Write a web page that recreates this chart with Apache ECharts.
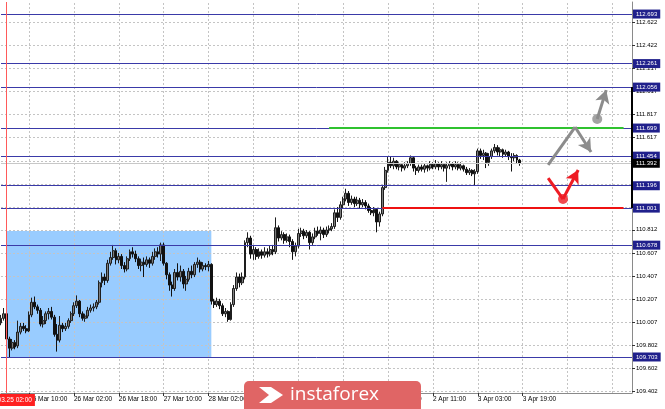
<!DOCTYPE html>
<html><head><meta charset="utf-8">
<script src="https://cdn.jsdelivr.net/npm/echarts@6/dist/echarts.min.js"></script>
<style>html,body{margin:0;padding:0;background:#fff}#c{width:665px;height:409px}</style>
</head><body><div id="c"></div><script>
const opens=[110.00,110.04,110.08,109.86,109.78,109.83,109.80,109.92,109.97,109.95,
109.93,110.07,110.18,110.14,110.11,109.99,110.02,110.08,110.10,110.05,
109.90,109.85,109.98,109.95,109.97,110.02,110.08,110.15,110.19,110.08,
110.04,110.06,110.11,110.13,110.14,110.18,110.35,110.40,110.37,110.52,
110.57,110.63,110.55,110.58,110.50,110.47,110.56,110.62,110.60,110.56,
110.50,110.53,110.51,110.55,110.52,110.58,110.62,110.60,110.68,110.52,
110.42,110.33,110.30,110.44,110.40,110.45,110.34,110.38,110.45,110.42,
110.51,110.53,110.47,110.50,110.49,110.51,110.19,110.16,110.19,110.15,
110.08,110.10,110.03,110.16,110.30,110.40,110.35,110.40,110.70,110.74,
110.60,110.64,110.58,110.62,110.59,110.62,110.60,110.64,110.62,110.83,
110.74,110.77,110.72,110.75,110.71,110.62,110.67,110.78,110.80,110.76,
110.79,110.70,110.75,110.80,110.78,110.81,110.77,110.81,110.82,110.84,
110.96,110.92,111.03,111.08,111.13,111.05,111.08,111.04,111.07,111.03,
111.05,111.02,110.98,110.96,110.99,110.88,110.95,111.18,111.33,111.40,
111.37,111.41,111.36,111.38,111.35,111.37,111.39,111.44,111.35,111.33,
111.36,111.34,111.37,111.35,111.38,111.36,111.39,111.36,111.38,111.35,
111.37,111.39,111.36,111.38,111.35,111.37,111.34,111.31,111.33,111.30,
111.32,111.50,111.46,111.48,111.40,111.45,111.50,111.53,111.49,111.51,
111.47,111.49,111.45,111.44,111.46,111.42];
const closes=[110.04,110.08,109.86,109.78,109.83,109.79,109.92,109.97,109.95,109.93,
110.07,110.18,110.14,110.11,109.99,110.02,110.08,110.10,110.05,109.90,
109.85,109.98,109.95,109.97,110.02,110.08,110.15,110.19,110.08,110.04,
110.06,110.11,110.13,110.14,110.18,110.35,110.40,110.37,110.52,110.57,
110.63,110.55,110.58,110.50,110.47,110.56,110.62,110.60,110.56,110.50,
110.53,110.51,110.55,110.52,110.58,110.62,110.60,110.68,110.52,110.42,
110.33,110.30,110.44,110.40,110.45,110.34,110.38,110.45,110.42,110.51,
110.53,110.47,110.50,110.49,110.51,110.19,110.16,110.19,110.15,110.08,
110.10,110.03,110.16,110.30,110.40,110.35,110.40,110.70,110.74,110.60,
110.64,110.58,110.62,110.59,110.62,110.60,110.64,110.62,110.83,110.74,
110.77,110.72,110.75,110.71,110.62,110.67,110.78,110.80,110.76,110.79,
110.70,110.75,110.80,110.78,110.81,110.77,110.81,110.82,110.84,110.96,
110.92,111.03,111.08,111.13,111.05,111.08,111.04,111.07,111.03,111.05,
111.02,110.98,110.96,110.99,110.88,110.95,111.18,111.33,111.40,111.37,
111.41,111.36,111.38,111.35,111.37,111.39,111.44,111.35,111.33,111.36,
111.34,111.37,111.35,111.38,111.36,111.39,111.36,111.38,111.35,111.37,
111.39,111.36,111.38,111.35,111.37,111.34,111.31,111.33,111.30,111.32,
111.50,111.46,111.48,111.40,111.45,111.50,111.53,111.49,111.51,111.47,
111.49,111.45,111.44,111.46,111.42,111.392];
const highs=[110.07,110.13,110.09,109.88,109.86,109.85,110.02,110.00,110.00,109.98,
110.10,110.22,110.23,110.16,110.13,110.06,110.10,110.13,110.14,110.07,
109.99,110.06,110.00,110.00,110.04,110.10,110.18,110.24,110.20,110.10,
110.08,110.14,110.16,110.17,110.20,110.37,110.44,110.43,110.55,110.62,
110.68,110.65,110.61,110.60,110.53,110.58,110.64,110.66,110.63,110.58,
110.56,110.57,110.58,110.57,110.62,110.65,110.66,110.70,110.70,110.53,
110.44,110.36,110.47,110.52,110.50,110.47,110.41,110.48,110.50,110.53,
110.57,110.55,110.53,110.52,110.54,110.52,110.21,110.22,110.21,110.17,
110.13,110.11,110.18,110.33,110.44,110.43,110.44,110.72,110.79,110.76,
110.67,110.66,110.65,110.64,110.66,110.65,110.67,110.68,110.92,110.85,
110.80,110.79,110.78,110.77,110.73,110.70,110.82,110.83,110.82,110.81,
110.80,110.78,110.83,110.84,110.84,110.83,110.84,110.85,110.87,110.99,
111.01,111.06,111.10,111.17,111.15,111.11,111.10,111.10,111.09,111.08,
111.07,111.04,111.01,111.01,111.00,110.97,111.20,111.36,111.45,111.45,
111.44,111.42,111.40,111.39,111.40,111.41,111.46,111.45,111.37,111.38,
111.38,111.39,111.38,111.41,111.40,111.42,111.40,111.41,111.39,111.40,
111.41,111.40,111.41,111.40,111.40,111.38,111.36,111.35,111.34,111.34,
111.52,111.52,111.51,111.49,111.48,111.52,111.56,111.55,111.53,111.52,
111.51,111.50,111.48,111.48,111.47,111.43];
const lows=[109.98,110.02,109.84,109.70,109.76,109.77,109.78,109.90,109.93,109.91,
109.92,110.05,110.12,110.08,109.97,109.96,109.99,110.03,110.03,109.88,
109.75,109.83,109.92,109.93,109.95,110.00,110.06,110.13,110.05,110.02,
110.01,110.04,110.09,110.10,110.12,110.16,110.31,110.33,110.35,110.50,
110.55,110.51,110.52,110.47,110.44,110.45,110.54,110.57,110.53,110.47,
110.45,110.40,110.49,110.48,110.50,110.55,110.57,110.54,110.50,110.38,
110.28,110.23,110.28,110.37,110.36,110.30,110.28,110.36,110.39,110.40,
110.48,110.44,110.45,110.46,110.45,110.16,110.13,110.14,110.12,110.06,
110.05,110.01,110.02,110.14,110.28,110.31,110.33,110.38,110.66,110.56,
110.55,110.55,110.56,110.56,110.57,110.57,110.58,110.59,110.60,110.71,
110.72,110.69,110.70,110.66,110.55,110.58,110.65,110.75,110.73,110.74,
110.64,110.68,110.73,110.76,110.72,110.74,110.75,110.78,110.80,110.82,
110.88,110.90,111.00,111.06,111.02,111.03,111.01,111.02,111.00,111.01,
110.99,110.96,110.94,110.93,110.79,110.84,110.93,111.16,111.31,111.35,
111.34,111.34,111.33,111.32,111.33,111.35,111.37,111.32,111.29,111.31,
111.32,111.31,111.32,111.33,111.34,111.34,111.33,111.34,111.32,111.23,
111.34,111.33,111.34,111.33,111.33,111.32,111.29,111.29,111.28,111.20,
111.30,111.43,111.42,111.35,111.37,111.43,111.48,111.46,111.45,111.44,
111.45,111.42,111.32,111.41,111.39,111.37];

const tickLabels=["25 Mar 10:00","26 Mar 02:00","26 Mar 18:00","27 Mar 10:00","28 Mar 02:00","28 Mar 18:00","29 Mar 10:00","1 Apr 02:00","1 Apr 18:00","2 Apr 11:00","3 Apr 03:00","3 Apr 19:00"];
const firstTick=10, tickStep=16, totalSlots=226;
const gridValues=[112.622,112.422,112.217,112.017,111.817,111.617,111.412,111.212,111.012,110.812,110.607,110.407,110.207,110.007,109.802,109.602,109.402];
const levelValues=[112.693,112.261,112.056,111.699,111.454,111.196,111.001,110.678,109.703];
const bidValue=111.392;
const greenLevel=111.699, greenFrom=117, greenTo=222;
const redLevel=111.001, redFrom=136, redTo=222;
const boxFrom=[2,109.703], boxTo=[75,110.801];
const separatorIndex=2, separatorLabel="2019.03.25 02:00";
const scaleMarkRange=[111.001,112.056];
const grayUpLeg=[[195.1,111.377],[204.7,111.708]];
const grayDownLeg=[[204.7,111.708],[210.4,111.490]];
const grayJump=[[212.6,111.778],[215.8,112.030]];
const redDownLeg=[[195.1,111.263],[200.4,111.080]];
const redUpLeg=[[200.4,111.080],[205.8,111.333]];
const yMin=109.389, yMax=112.798;

const categories=[];
for(let i=0;i<totalSlots;i++){
  const k=(i-firstTick)/tickStep;
  categories.push(Number.isInteger(k)&&k>=0&&k<tickLabels.length?tickLabels[k]:'');
}
const candleData=opens.map((o,i)=>[o,closes[i],lows[i],highs[i]]);
const isTick=i=>(i-firstTick)%tickStep===0&&i>=firstTick;
const vGrid=[];
for(let i=firstTick;i<totalSlots;i+=tickStep) vGrid.push({xAxis:i});

const chart=echarts.init(document.getElementById('c'),null,{renderer:'canvas'});
const FONT='Liberation Sans';
function seg(a,b,arrow){return [{coord:a,symbol:'none'},{coord:b,symbol:arrow?'arrow':'none',symbolSize:arrow?[11,13]:0}];}
const boxLabel=(bg)=>({show:true,position:'end',formatter:p=>Number(p.value).toFixed(3),color:'#fff',backgroundColor:bg,
  padding:[2,3,1,3],distance:1,fontSize:6,fontFamily:FONT});
chart.setOption({
  animation:false,
  backgroundColor:'#ffffff',
  grid:{left:1,right:33,top:2,bottom:16,containLabel:false},
  xAxis:[{
    type:'category',data:categories,boundaryGap:false,
    axisLine:{show:true,onZero:false,lineStyle:{color:'#8a8a8a',width:1}},
    axisTick:{show:true,interval:(i)=>isTick(i)&&i<opens.length+2,length:3,lineStyle:{color:'#333'}},
    axisLabel:{show:true,interval:(i)=>isTick(i),formatter:v=>v,align:'left',margin:3,fontSize:6.5,color:'#000',fontFamily:FONT},
    splitLine:{show:false}
  },{
    type:'value',min:0,max:totalSlots-1,show:false,axisLine:{show:false,onZero:false},splitLine:{show:false}
  }],
  yAxis:{
    type:'value',position:'right',min:yMin,max:yMax,scale:true,
    axisLine:{show:true,onZero:false,lineStyle:{color:'#8a8a8a'}},
    axisTick:{show:true,customValues:gridValues,length:3,lineStyle:{color:'#333'}},
    axisLabel:{show:true,customValues:gridValues,formatter:v=>v.toFixed(3),fontSize:6,color:'#000',fontFamily:FONT,margin:4},
    splitLine:{show:false}
  },
  series:[
    {type:'line',xAxisIndex:1,data:[],silent:true,
     markArea:{z:0,silent:true,itemStyle:{color:'#99ccff'},data:[[{coord:boxFrom},{coord:boxTo}]]}},
    {type:'line',xAxisIndex:1,data:[],silent:true,
     markLine:{z:1,silent:true,precision:3,symbol:['none','none'],label:{show:false},
       lineStyle:{color:'#c4c4c4',type:[2,2],width:1},
       data:gridValues.map(v=>({yAxis:v})).concat(vGrid)}},
    {type:'candlestick',xAxisIndex:0,data:candleData,z:3,barWidth:2.4,
     itemStyle:{color:'#7d7d7d',color0:'#111111',borderColor:'#1e1e1e',borderColor0:'#111111',borderWidth:1}},
    {type:'line',xAxisIndex:1,data:[],silent:true,
     markLine:{z:5,silent:true,precision:3,symbol:['none','none'],
       data:[
        ...levelValues.map(v=>({yAxis:v,lineStyle:{color:'#3a3aa8',width:1,type:'solid'},label:boxLabel('#20208c')})),
        {yAxis:bidValue,lineStyle:{color:'#c8c8c8',width:1,type:'solid'},label:boxLabel('#000000')},
        [{coord:[totalSlots-1,scaleMarkRange[0]],lineStyle:{color:'#000',width:2,type:'solid'},label:{show:false}},{coord:[totalSlots-1,scaleMarkRange[1]]}],
        [{coord:[greenFrom,greenLevel],lineStyle:{color:'#2fc22f',width:2,type:'solid'},label:{show:false}},{coord:[greenTo,greenLevel]}],
        [{coord:[redFrom,redLevel],lineStyle:{color:'#ee1111',width:2,type:'solid'},label:{show:false}},{coord:[redTo,redLevel]}]
       ]}},
    {type:'line',xAxisIndex:1,data:[],silent:true,
     markLine:{z:5,silent:true,symbol:['none','none'],label:{show:false},
       lineStyle:{color:'#ff5a5a',width:1,type:'solid'},
       data:[{xAxis:separatorIndex}]}},
    {type:'line',xAxisIndex:1,data:[],silent:true,
     markLine:{z:6,silent:true,symbol:['none','none'],label:{show:false},
       lineStyle:{color:'#8c8c8c',width:3,type:'solid'},
       data:[seg(grayUpLeg[0],grayUpLeg[1],false),seg(grayDownLeg[0],grayDownLeg[1],true),seg(grayJump[0],grayJump[1],true)]}},
    {type:'line',xAxisIndex:1,data:[],silent:true,
     markLine:{z:6,silent:true,symbol:['none','none'],label:{show:false},
       lineStyle:{color:'#ee1c24',width:3,type:'solid'},
       data:[seg(redDownLeg[0],redDownLeg[1],false),seg(redUpLeg[0],redUpLeg[1],true)]}},
    {type:'scatter',xAxisIndex:1,z:7,silent:true,symbolSize:10,itemStyle:{color:'#8c8c8c'},data:[grayJump[0]]},
    {type:'scatter',xAxisIndex:1,z:7,silent:true,symbolSize:10,itemStyle:{color:'#ee1c24'},data:[redUpLeg[0]]}
  ]
});
const sepPt=chart.convertToPixel({xAxisIndex:1,yAxisIndex:0},[separatorIndex,yMin]);
chart.setOption({graphic:[
  {id:'sep',type:'text',z:50,silent:true,
   style:{x:sepPt[0],y:sepPt[1]+1,text:separatorLabel,fill:'#fff',backgroundColor:'#ff2020',padding:[3,3,2,3],
     font:'6.5px "Liberation Sans"',align:'center',verticalAlign:'top'}},
  {id:'wm',type:'group',left:244,top:381,zlevel:2,z:100,silent:true,
   children:[
     {type:'rect',z:100,zlevel:2,shape:{x:0,y:0,width:177,height:40,r:5},style:{fill:'#e06565'}},
     {type:'polygon',z:101,zlevel:2,shape:{points:[[15,6],[27,6],[39,14],[27,22],[15,22],[25,14]]},style:{fill:'#ffffff'}},
     {type:'text',z:101,zlevel:2,style:{x:46,y:4,text:'instaforex',fill:'#ffffff',font:'400 19px "Open Sans"'}}
   ]}
]});
</script></body></html>
